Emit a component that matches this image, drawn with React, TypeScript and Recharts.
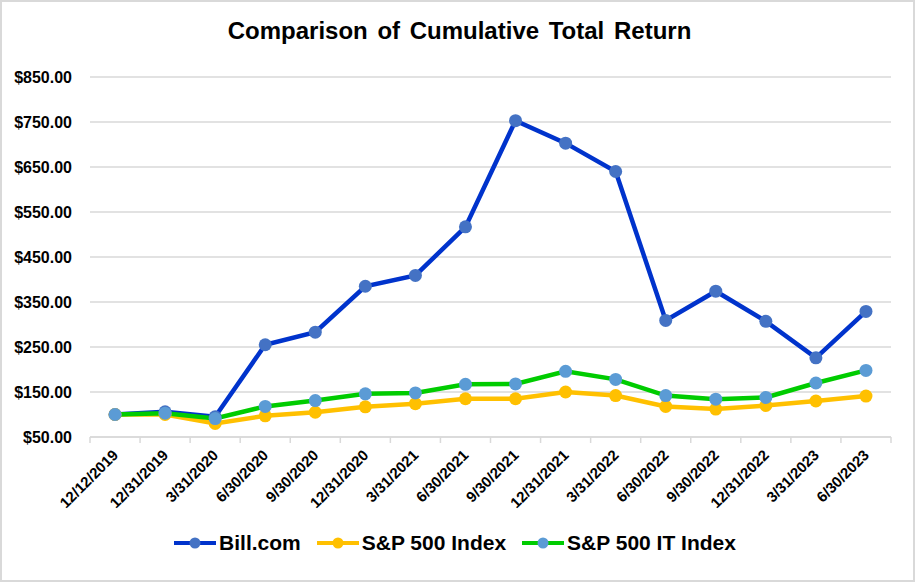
import { CartesianGrid, Legend, Line, LineChart, XAxis, YAxis } from "recharts";

const DATES = [
  "12/12/2019",
  "12/31/2019",
  "3/31/2020",
  "6/30/2020",
  "9/30/2020",
  "12/31/2020",
  "3/31/2021",
  "6/30/2021",
  "9/30/2021",
  "12/31/2021",
  "3/31/2022",
  "6/30/2022",
  "9/30/2022",
  "12/31/2022",
  "3/31/2023",
  "6/30/2023",
];

const BILL = [100, 106, 95, 255, 283, 385, 409, 517, 753, 703, 640, 309, 374, 307, 226, 329];
const SP500 = [100, 100, 80, 97, 105, 117, 124, 135, 135, 150, 142, 118, 112, 120, 130, 141];
const SP500_IT = [100, 103, 91, 118, 131, 146, 148, 167, 168, 196, 178, 142, 134, 138, 170, 198];

const Y_TICKS = [50, 150, 250, 350, 450, 550, 650, 750, 850];

const SERIES = [
  { key: "bill", name: "Bill.com", values: BILL, stroke: "#0033cc", dot: "#4472c4" },
  { key: "sp", name: "S&P 500 Index", values: SP500, stroke: "#ffc000", dot: "#ffc000" },
  { key: "it", name: "S&P 500 IT Index", values: SP500_IT, stroke: "#00cc00", dot: "#5b9bd5" },
];

const W = 915;
const H = 582;
const MARGIN = { top: 77, right: 24, left: 0, bottom: 10 };
const Y_WIDTH = 90;
const HALF_BAND = (W - MARGIN.left - MARGIN.right - Y_WIDTH) / DATES.length / 2;

const data = DATES.map((d, i) => {
  const row: Record<string, string | number> = { date: d };
  SERIES.forEach((s) => (row[s.key] = s.values[i]));
  return row;
});

const fmtMoney = (v: number) => "$" + v.toFixed(2);

function DateTick({ x, y, payload, index }: any) {
  const axisY = y - 8;
  return (
    <g>
      <line x1={x - HALF_BAND} x2={x - HALF_BAND} y1={axisY} y2={axisY + 6} stroke="#d9d9d9" strokeWidth={1.5} />
      {index === DATES.length - 1 && (
        <line x1={x + HALF_BAND} x2={x + HALF_BAND} y1={axisY} y2={axisY + 6} stroke="#d9d9d9" strokeWidth={1.5} />
      )}
      <text
        x={x + 4}
        y={axisY + 19}
        textAnchor="end"
        transform={`rotate(-45, ${x + 4}, ${axisY + 19})`}
        fontSize={15}
        fontWeight="bold"
        fill="#000"
      >
        {payload.value}
      </text>
    </g>
  );
}

function LegendContent() {
  return (
    <div
      style={{
        display: "flex",
        justifyContent: "center",
        gap: 15,
        paddingTop: 14,
        paddingLeft: 18,
        fontSize: 21,
        fontWeight: "bold",
      }}
    >
      {SERIES.map((s) => (
        <div key={s.key} style={{ display: "flex", alignItems: "center" }}>
          <svg width={44} height={14} style={{ marginRight: 2 }}>
            <line x1={1} x2={43} y1={7} y2={7} stroke={s.stroke} strokeWidth={4} />
            <circle cx={22} cy={7} r={5.5} fill={s.dot} />
          </svg>
          <span>{s.name}</span>
        </div>
      ))}
    </div>
  );
}

export default function App() {
  return (
    <div
      style={{
        position: "fixed",
        left: 0,
        top: 0,
        width: W,
        height: H,
        background: "#fff",
        boxSizing: "border-box",
        border: "2px solid #d9d9d9",
        fontFamily: "'Liberation Sans', Arial, sans-serif",
      }}
    >
      <div
        style={{
          position: "absolute",
          top: 15,
          left: 0,
          width: W,
          textAlign: "center",
          fontSize: 24,
          fontWeight: "bold",
          wordSpacing: 3,
          color: "#000",
        }}
      >
        Comparison of Cumulative Total Return
      </div>
      <div style={{ position: "absolute", left: -2, top: -2 }}>
        <LineChart width={W} height={H} data={data} margin={MARGIN}>
          <CartesianGrid vertical={false} stroke="#d9d9d9" strokeWidth={1.5} />
          <XAxis
            dataKey="date"
            interval={0}
            height={80}
            padding={{ left: HALF_BAND, right: HALF_BAND }}
            tickLine={false}
            axisLine={{ stroke: "#d9d9d9", strokeWidth: 1.5 }}
            tick={<DateTick />}
          />
          <YAxis
            width={Y_WIDTH}
            domain={[50, 850]}
            ticks={Y_TICKS}
            tickFormatter={fmtMoney}
            axisLine={false}
            tickLine={false}
            tickMargin={12}
            tick={{ fill: "#000", fontSize: 16, fontWeight: "bold" }}
          />
          <Legend verticalAlign="bottom" height={55} content={<LegendContent />} />
          {SERIES.map((s) => (
            <Line
              key={s.key}
              dataKey={s.key}
              name={s.name}
              stroke={s.stroke}
              strokeWidth={4.5}
              dot={{ r: 6.5, fill: s.dot, stroke: s.dot, strokeWidth: 0 }}
              activeDot={false}
              isAnimationActive={false}
            />
          ))}
        </LineChart>
      </div>
    </div>
  );
}
